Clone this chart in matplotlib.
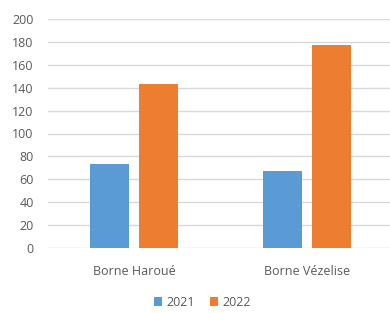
import numpy as np
import matplotlib.pyplot as plt

categories = ["Borne Haroué", "Borne Vézelise"]
series_names = ["2021", "2022"]
values_2021 = [73, 67]
values_2022 = [143, 177]
colors = ["#5b9bd5", "#ed7d31"]

plt.rcParams['font.family'] = ['Open Sans', 'DejaVu Sans']

fig = plt.figure(figsize=(3.9, 3.13), dpi=100)
ax = fig.add_axes([47.5/390, (313-248.3)/313, (390-47.5)/390, 229.6/313])

x = np.arange(len(categories))
width = 0.224
off = 0.14
ax.bar(x - off, values_2021, width, color=colors[0], label=series_names[0], zorder=3)
ax.bar(x + off, values_2022, width, color=colors[1], label=series_names[1], zorder=3)

ax.set_ylim(0, 200)
ax.set_yticks(range(0, 201, 20))
ax.set_xlim(-0.5, 1.5 - 3.5/173)
ax.set_xticks(x)
ax.set_xticklabels(categories)
ax.yaxis.grid(True, color="#d9d9d9", linewidth=1, zorder=0)
for s in ax.spines.values():
    s.set_visible(False)
ax.tick_params(length=0, colors="#595959", labelsize=9)
ax.tick_params(axis="x", pad=12)
ax.tick_params(axis="y", pad=10)

ax.legend(loc="center", bbox_to_anchor=((202-47.5)/(390-47.5), (248.3-302)/229.6),
          ncol=2, frameon=False, fontsize=9, labelcolor="#595959",
          handlelength=0.7, handleheight=0.7, handletextpad=0.3, columnspacing=1.2)

fig.savefig("out.png", dpi=100)
